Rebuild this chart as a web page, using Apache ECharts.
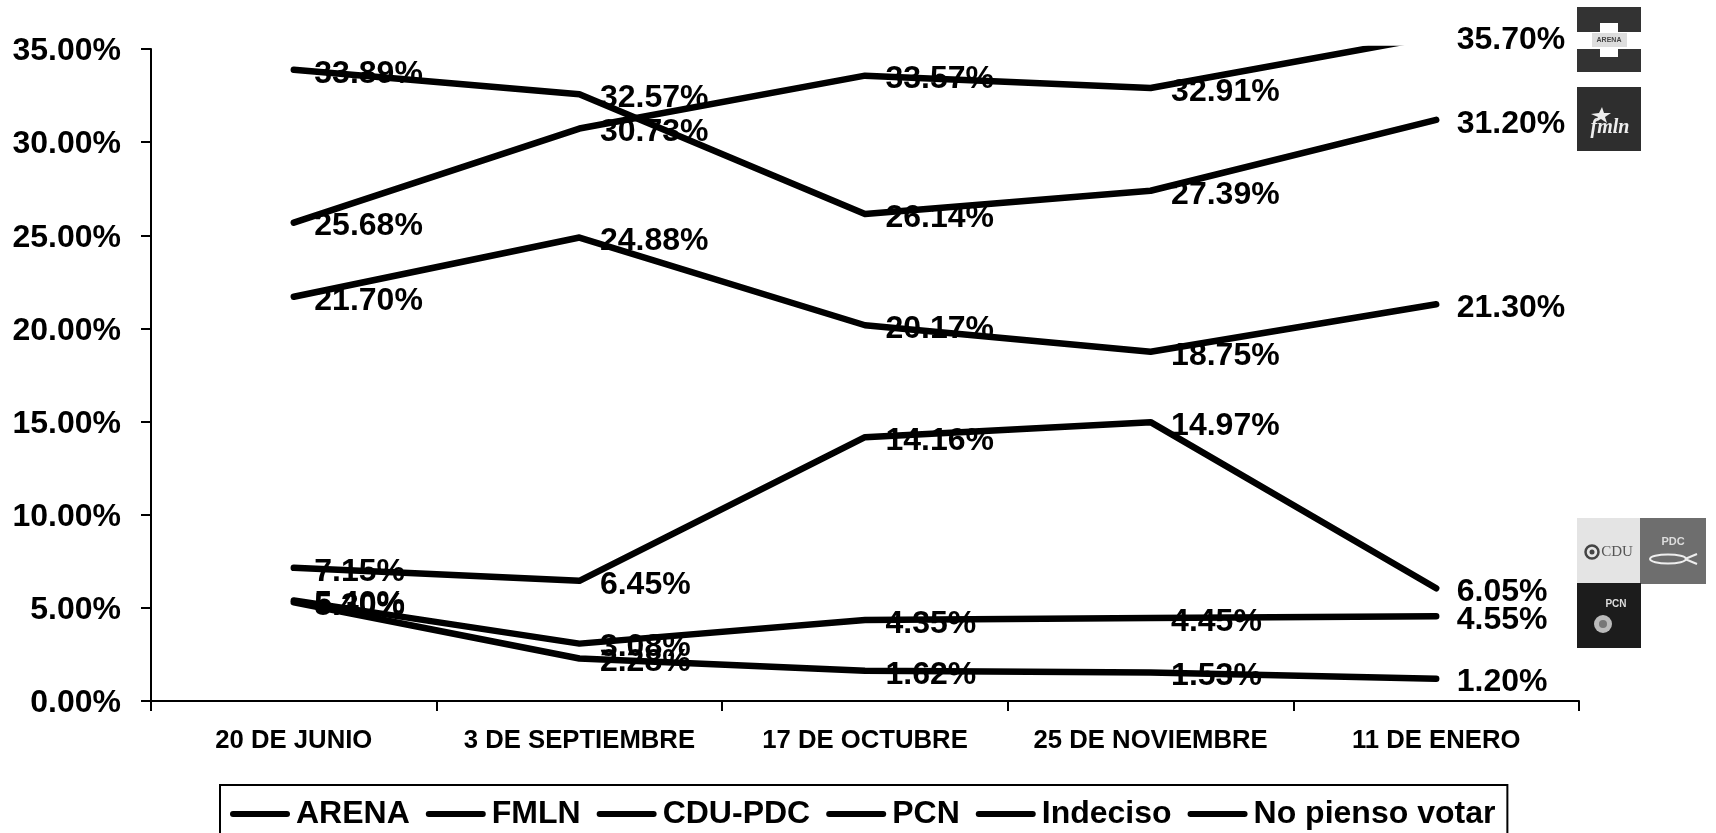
<!DOCTYPE html>
<html><head><meta charset="utf-8">
<style>html,body{margin:0;padding:0;background:#fff;overflow:hidden}#c{width:1716px;height:833px}</style>
<script src="https://cdn.jsdelivr.net/npm/echarts@6/dist/echarts.min.js"></script>
</head><body><div id="c"></div>
<script>
const categories = ['20 DE JUNIO','3 DE SEPTIEMBRE','17 DE OCTUBRE','25 DE NOVIEMBRE','11 DE ENERO'];
const arena = [25.68,30.73,33.57,32.91,35.70];
const fmln = [33.89,32.57,26.14,27.39,31.20];
const cduPdc = [7.15,6.45,14.16,14.97,6.05];
const pcn = [5.40,3.08,4.35,4.45,4.55];
const indeciso = [21.70,24.88,20.17,18.75,21.30];
const noPienso = [5.30,2.28,1.62,1.53,1.20];
const seriesNames = ['ARENA','FMLN','CDU-PDC','PCN','Indeciso','No pienso votar'];
const seriesValues = [arena,fmln,cduPdc,pcn,indeciso,noPienso];
const FONT = '"Liberation Sans", Arial, sans-serif';
const lbl = {show:true,position:'right',distance:20,offset:[0,4],color:'#000',fontFamily:FONT,fontWeight:'bold',fontSize:32,
  formatter:p=>p.value.toFixed(2)+'%'};
const series = seriesNames.map((n,i)=>({
  name:n,type:'line',data:seriesValues[i],clip:true,
  showSymbol:false,symbol:'none',
  lineStyle:{color:'#000',width:6.5,cap:'round',join:'round'},itemStyle:{color:'#000'},
  emphasis:{disabled:true},animation:false,silent:true,z:2
}));
// separate unclipped, line-less series carrying the value labels
seriesNames.forEach((n,i)=>series.push({
  name:n+' labels',type:'line',data:seriesValues[i],clip:false,
  symbol:'circle',symbolSize:1,showSymbol:true,showAllSymbol:true,
  lineStyle:{color:'transparent',width:0},itemStyle:{color:'transparent'},label:lbl,
  emphasis:{disabled:true},animation:false,silent:true,z:3
}));
function logo(x,y,w,h,fill,children){
  return {type:'group',x,y,silent:true,children:[{type:'rect',shape:{x:0,y:0,width:w,height:h},style:{fill}}].concat(children||[])};
}
const t=(x,y,text,fill,size,extra)=>({type:'text',x,y,style:Object.assign({text,fill,font:`bold ${size}px ${FONT}`,align:'center',verticalAlign:'middle'},extra||{})});
const graphic=[
  logo(1577,7,64,65,'#333',[
    {type:'rect',shape:{x:0,y:25,width:64,height:17},style:{fill:'#fff'}},
    {type:'rect',shape:{x:23,y:16,width:18,height:34},style:{fill:'#fff'}},
    {type:'rect',shape:{x:15,y:26,width:35,height:14},style:{fill:'#ddd'}},
    t(32,33,'ARENA','#444',7)]),
  logo(1577,87,64,64,'#2e2e2e',[
    {type:'polygon',shape:{points:[[25,20],[27,26],[34,26],[28,30],[30,36],[24,32],[18,35],[21,30],[14,27],[22,26]]},style:{fill:'#eee'}},
    t(33,41,'fmln','#eee',20,{font:`italic bold 20px "Liberation Serif", serif`})]),
  logo(1577,518,64,65,'#e4e4e4',[
    {type:'circle',shape:{cx:15,cy:34,r:6.5},style:{fill:'none',stroke:'#444',lineWidth:2.5}},
    {type:'circle',shape:{cx:15,cy:34,r:2.5},style:{fill:'#444'}},
    t(40,34,'CDU','#555',15,{font:`15px "Liberation Serif", serif`})]),
  logo(1640,518,66,66,'#6e6e6e',[t(33,24,'PDC','#ddd',11),
    {type:'ellipse',shape:{cx:28,cy:41,rx:18,ry:4.5},style:{fill:'none',stroke:'#eee',lineWidth:2}},
    {type:'polyline',shape:{points:[[45,41],[57,36]]},style:{stroke:'#eee',lineWidth:2}},
    {type:'polyline',shape:{points:[[45,41],[57,46]]},style:{stroke:'#eee',lineWidth:2}}]),
  logo(1577,583,64,65,'#1c1c1c',[t(39,21,'PCN','#ddd',10),
    {type:'circle',shape:{cx:26,cy:41,r:9},style:{fill:'#bbb'}},
    {type:'circle',shape:{cx:26,cy:41,r:4},style:{fill:'#777'}}])
];
const axisLine={show:true,lineStyle:{color:'#000',width:2}};
const axisTick={show:true,length:10,lineStyle:{color:'#000',width:2}};
const chart=echarts.init(document.getElementById('c'),null,{renderer:'canvas'});
chart.setOption({
  animation:false,backgroundColor:'#fff',
  grid:{left:151,right:137,top:49,bottom:132},
  xAxis:{type:'category',data:categories,boundaryGap:true,axisLine,
     axisTick:Object.assign({alignWithLabel:false},axisTick),
     axisLabel:{color:'#000',fontFamily:FONT,fontWeight:'bold',fontSize:25.7,margin:27,interval:0},splitLine:{show:false}},
  yAxis:{type:'value',min:0,max:35,interval:5,axisLine,axisTick,
     axisLabel:{color:'#000',fontFamily:FONT,fontWeight:'bold',fontSize:32,margin:30,verticalAlign:'top',lineHeight:5,formatter:v=>v.toFixed(2)+'%'},splitLine:{show:false}},
  legend:{data:seriesNames,left:220,top:785,padding:[13,12,13,10],itemGap:16,itemWidth:60,itemHeight:6.5,
    icon:'path://M3,0H57A3,3 0 0 1 57,6H3A3,3 0 0 1 3,0Z',
    itemStyle:{color:'#000'},
    borderColor:'#000',borderWidth:2,backgroundColor:'#fff',borderRadius:0,
    selectedMode:false,
    textStyle:{color:'#000',fontFamily:FONT,fontWeight:'bold',fontSize:32,padding:[0,0,0,1]}},
  series,graphic
});
</script></body></html>
